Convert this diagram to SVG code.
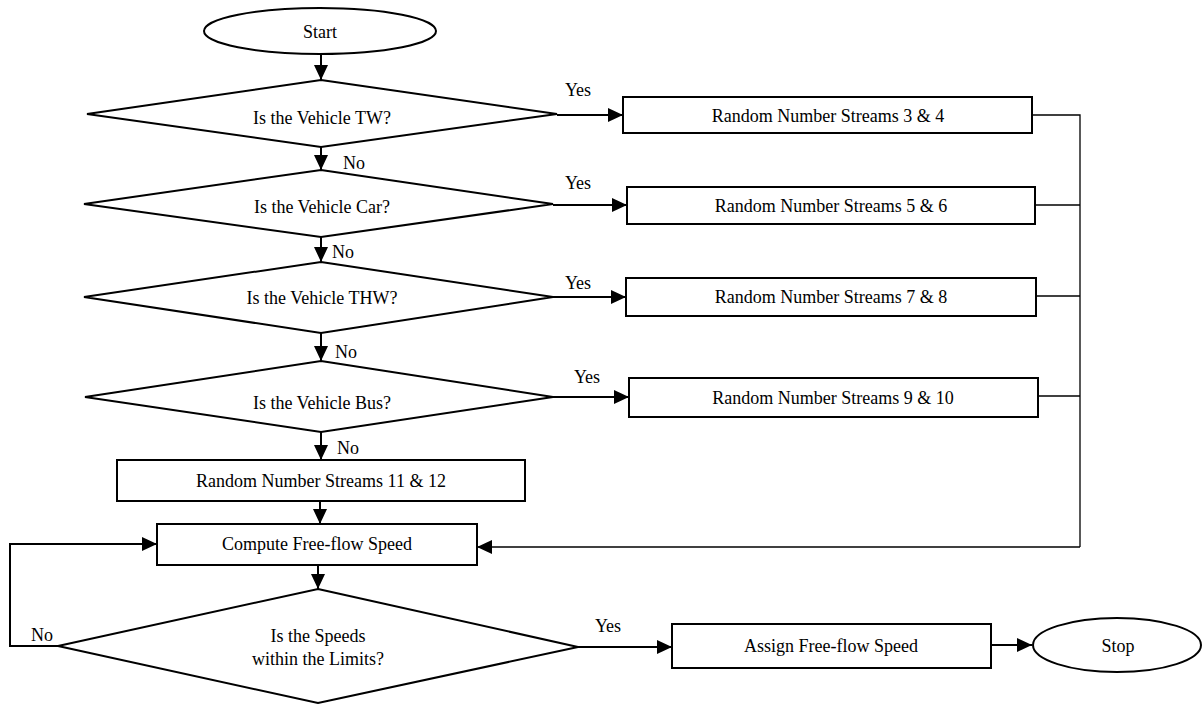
<svg xmlns="http://www.w3.org/2000/svg" width="1203" height="704" viewBox="0 0 1203 704">
  <style>
    .shape { fill: #ffffff; stroke: #000000; stroke-width: 2; }
    .label { font-family: "Liberation Serif", "Times New Roman", serif; font-size: 18px; fill: #000000; }
    .mid { text-anchor: middle; dominant-baseline: central; }
    .flow { fill: none; stroke: #000000; stroke-width: 2; }
    .thin { fill: none; stroke: #000000; stroke-width: 1.3; }
  </style>
  <defs>
    <marker id="arrow" markerUnits="userSpaceOnUse" markerWidth="16" markerHeight="14" refX="15" refY="7" orient="auto">
      <path d="M0,0 L15,7 L0,14 z" fill="#000000"/>
    </marker>
  </defs>

  <rect width="1203" height="704" fill="#ffffff"/>

  <!-- connectors -->
  <g id="connectors">
    <line class="flow" x1="321" y1="54" x2="321" y2="80" marker-end="url(#arrow)"/>
    <line class="flow" x1="321" y1="147" x2="321" y2="170" marker-end="url(#arrow)"/>
    <line class="flow" x1="321" y1="237" x2="321" y2="262" marker-end="url(#arrow)"/>
    <line class="flow" x1="321" y1="333" x2="321" y2="361" marker-end="url(#arrow)"/>
    <line class="flow" x1="321" y1="432" x2="321" y2="460" marker-end="url(#arrow)"/>
    <line class="flow" x1="320" y1="501" x2="320" y2="524" marker-end="url(#arrow)"/>
    <line class="flow" x1="318" y1="565" x2="318" y2="589" marker-end="url(#arrow)"/>

    <line class="flow" x1="557" y1="115" x2="623" y2="115" marker-end="url(#arrow)"/>
    <line class="flow" x1="553" y1="205" x2="627" y2="205" marker-end="url(#arrow)"/>
    <line class="flow" x1="553" y1="297" x2="626" y2="297" marker-end="url(#arrow)"/>
    <line class="flow" x1="553" y1="397" x2="629" y2="397" marker-end="url(#arrow)"/>

    <!-- stream boxes merge into the free-flow speed step -->
    <polyline class="thin" points="1032,115 1080,115 1080,547"/>
    <line class="thin" x1="1035" y1="205" x2="1080" y2="205"/>
    <line class="thin" x1="1036" y1="296" x2="1080" y2="296"/>
    <line class="thin" x1="1038" y1="396" x2="1080" y2="396"/>
    <line class="thin" x1="1080" y1="547" x2="477" y2="547" marker-end="url(#arrow)"/>

    <!-- retry loop -->
    <polyline class="flow" points="58,646 10,646 10,544 157,544" marker-end="url(#arrow)"/>

    <line class="flow" x1="578" y1="647" x2="672" y2="647" marker-end="url(#arrow)"/>
    <line class="flow" x1="991" y1="645" x2="1032" y2="645" marker-end="url(#arrow)"/>

    <text class="label mid" x="578" y="90">Yes</text>
    <text class="label mid" x="578" y="183">Yes</text>
    <text class="label mid" x="578" y="283">Yes</text>
    <text class="label mid" x="587" y="377">Yes</text>
    <text class="label mid" x="608" y="626">Yes</text>
    <text class="label" x="343" y="169">No</text>
    <text class="label" x="332" y="258">No</text>
    <text class="label" x="335" y="358">No</text>
    <text class="label" x="337" y="454">No</text>
    <text class="label mid" x="42" y="635">No</text>
  </g>

  <g id="start">
    <ellipse class="shape" cx="320" cy="31" rx="116" ry="23"/>
    <text class="label mid" x="320" y="32">Start</text>
  </g>

  <g id="is-tw">
    <polygon class="shape" points="321,80 557,114 321,147 87,114"/>
    <text class="label mid" x="322" y="118">Is the Vehicle TW?</text>
  </g>
  <g id="streams-3-4">
    <rect class="shape" x="623" y="97" width="409" height="36"/>
    <text class="label mid" x="828" y="116">Random Number Streams 3 &amp; 4</text>
  </g>

  <g id="is-car">
    <polygon class="shape" points="321,170 553,204 321,237 84,204"/>
    <text class="label mid" x="322" y="207">Is the Vehicle Car?</text>
  </g>
  <g id="streams-5-6">
    <rect class="shape" x="627" y="187" width="408" height="37"/>
    <text class="label mid" x="831" y="206">Random Number Streams 5 &amp; 6</text>
  </g>

  <g id="is-thw">
    <polygon class="shape" points="321,262 553,297 321,333 84,297"/>
    <text class="label mid" x="322" y="298">Is the Vehicle THW?</text>
  </g>
  <g id="streams-7-8">
    <rect class="shape" x="626" y="278" width="410" height="38"/>
    <text class="label mid" x="831" y="297">Random Number Streams 7 &amp; 8</text>
  </g>

  <g id="is-bus">
    <polygon class="shape" points="321,361 553,397 321,432 85,397"/>
    <text class="label mid" x="322" y="403">Is the Vehicle Bus?</text>
  </g>
  <g id="streams-9-10">
    <rect class="shape" x="629" y="378" width="409" height="39"/>
    <text class="label mid" x="833" y="398">Random Number Streams 9 &amp; 10</text>
  </g>

  <g id="streams-11-12">
    <rect class="shape" x="117" y="460" width="408" height="41"/>
    <text class="label mid" x="321" y="481">Random Number Streams 11 &amp; 12</text>
  </g>

  <g id="compute-speed">
    <rect class="shape" x="157" y="524" width="320" height="41"/>
    <text class="label mid" x="317" y="544">Compute Free-flow Speed</text>
  </g>

  <g id="within-limits">
    <polygon class="shape" points="318,589 578,647 318,703 58,646"/>
    <text class="label mid" x="318" y="636">Is the Speeds</text>
    <text class="label mid" x="318" y="659">within the Limits?</text>
  </g>

  <g id="assign-speed">
    <rect class="shape" x="672" y="624" width="319" height="44"/>
    <text class="label mid" x="831" y="646">Assign Free-flow Speed</text>
  </g>

  <g id="stop">
    <ellipse class="shape" cx="1117" cy="645" rx="84" ry="27"/>
    <text class="label mid" x="1118" y="646">Stop</text>
  </g>
</svg>
